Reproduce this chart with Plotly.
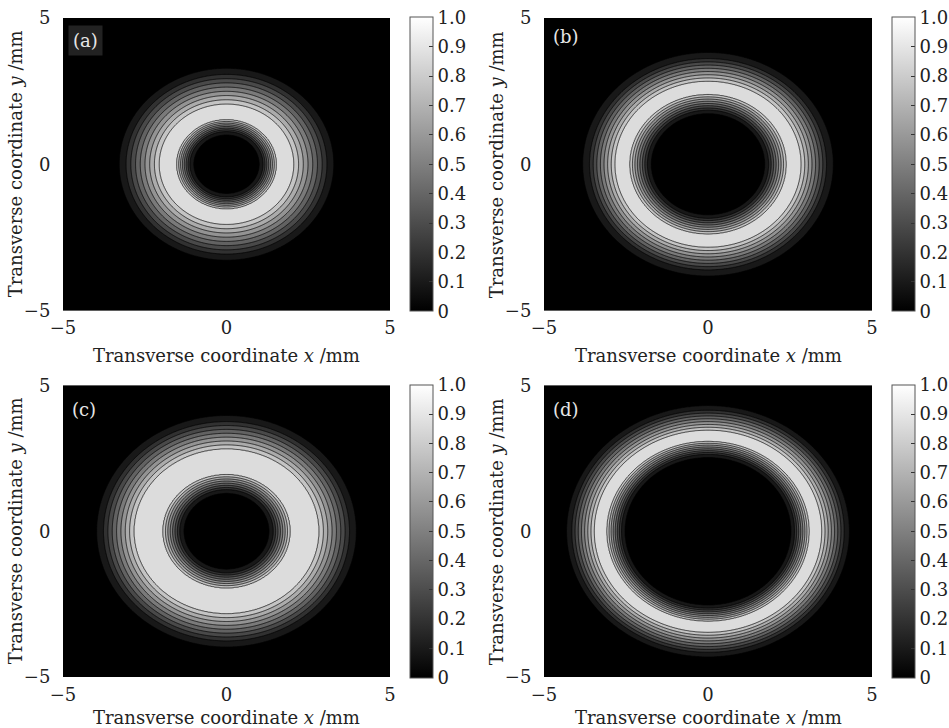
import numpy as np
import plotly.graph_objects as go

# ---- data: radial intensity profiles (r in mm, normalized intensity) ----
panel_labels = ["(a)", "(b)", "(c)", "(d)"]
r_a = [0.0, 0.80, 1.00, 1.12, 1.52, 1.80, 2.06, 3.07, 3.28, 3.60, 7.5]
i_a = [0.0, 0.00, 0.10, 0.20, 0.90, 1.00, 0.90, 0.20, 0.10, 0.00, 0.0]
r_b = [0.0, 1.50, 1.73, 1.85, 2.38, 2.62, 2.84, 3.61, 3.82, 4.15, 7.5]
i_b = [0.0, 0.00, 0.10, 0.20, 0.90, 1.00, 0.90, 0.20, 0.10, 0.00, 0.0]
r_c = [0.0, 1.05, 1.30, 1.43, 1.94, 2.40, 2.83, 3.76, 3.97, 4.30, 7.5]
i_c = [0.0, 0.00, 0.10, 0.20, 0.90, 1.00, 0.90, 0.20, 0.10, 0.00, 0.0]
r_d = [0.0, 2.30, 2.53, 2.64, 3.08, 3.28, 3.47, 4.15, 4.31, 4.60, 7.5]
i_d = [0.0, 0.00, 0.10, 0.20, 0.90, 1.00, 0.90, 0.20, 0.10, 0.00, 0.0]
profiles = [(r_a, i_a), (r_b, i_b), (r_c, i_c), (r_d, i_d)]

axis_ticks = [-5, 0, 5]
cbar_vals = [0, 0.1, 0.2, 0.3, 0.4, 0.5, 0.6, 0.7, 0.8, 0.9, 1.0]
cbar_text = ["0", "0.1", "0.2", "0.3", "0.4", "0.5", "0.6", "0.7", "0.8", "0.9", "1.0"]

W, H = 949, 728
FONT = "DejaVu Serif"

# grid coordinates
xs = np.linspace(-5, 5, 401)
ys = np.linspace(-5, 5, 401)
XX, YY = np.meshgrid(xs, ys)
RR = np.sqrt(XX ** 2 + YY ** 2)

# pixel geometry of each panel: (x0, x1, y0, y1) plot area, colorbar left, x-title centre
panels_px = [
    (63, 390, 18, 310.5, 410, 355),
    (544, 872, 18, 310.5, 892, 355),
    (63, 390, 385.5, 677, 410, 717),
    (544, 872, 385.5, 677, 892, 717),
]
label_px = [(85, 40), (566, 36), (84, 409), (566, 409)]

fig = go.Figure()
layout_axes = {}
annotations = []

for k, ((rp, ip), (x0, x1, y0, y1, cbx, ty)) in enumerate(zip(profiles, panels_px)):
    Z = np.interp(RR, rp, ip)
    n = k + 1
    xa = "x" if n == 1 else f"x{n}"
    ya = "y" if n == 1 else f"y{n}"
    fig.add_trace(go.Contour(
        x=xs, y=ys, z=Z, xaxis=xa, yaxis=ya,
        contours=dict(start=0.1, end=0.9, size=0.1, coloring="fill"),
        colorscale=[[0, "#000000"], [1, "#dcdcdc"]],
        line=dict(color="black", width=0.7),
        showscale=False, hoverinfo="skip",
    ))
    # continuous gray colorbar
    fig.add_trace(go.Scatter(
        x=[0, 0], y=[0, 0], xaxis=xa, yaxis=ya, mode="markers",
        marker=dict(size=1, opacity=0, color=[0, 1], cmin=0, cmax=1,
                    colorscale=[[0, "#000000"], [1, "#ffffff"]], showscale=True,
                    colorbar=dict(
                        x=cbx / W, xanchor="left", xpad=0,
                        y=1 - (y0 + y1) / 2 / H, yanchor="middle", ypad=0,
                        len=(y1 - y0 + 1) / H, lenmode="fraction",
                        thickness=23, thicknessmode="pixels",
                        outlinewidth=1, outlinecolor="#555555",
                        tickmode="array", tickvals=cbar_vals, ticktext=cbar_text,
                        ticks="inside", ticklen=4, tickcolor="#333333",
                        tickfont=dict(family=FONT, size=18, color="#222222"),
                    )),
        hoverinfo="skip", showlegend=False,
    ))
    kx = "xaxis" if n == 1 else f"xaxis{n}"
    ky = "yaxis" if n == 1 else f"yaxis{n}"
    layout_axes[kx] = dict(
        domain=[x0 / W, x1 / W], range=[-5, 5], anchor=ya,
        tickmode="array", tickvals=axis_ticks, ticks="outside", ticklen=1,
        tickcolor="rgba(0,0,0,0)", showgrid=False, zeroline=False, showline=False,
        tickfont=dict(family=FONT, size=18, color="#222222"), fixedrange=True,
    )
    layout_axes[ky] = dict(
        domain=[1 - y1 / H, 1 - y0 / H], range=[-5, 5], anchor=xa,
        tickmode="array", tickvals=axis_ticks, ticks="outside", ticklen=8,
        tickcolor="rgba(0,0,0,0)", showgrid=False, zeroline=False, showline=False,
        tickfont=dict(family=FONT, size=18, color="#222222"), fixedrange=True,
    )
    # axis titles
    annotations.append(dict(
        text="Transverse coordinate <i>x</i> /mm", xref="paper", yref="paper",
        x=(x0 + x1) / 2 / W, y=1 - ty / H, xanchor="center", yanchor="middle",
        showarrow=False, font=dict(family=FONT, size=18, color="#222222"),
    ))
    annotations.append(dict(
        text="Transverse coordinate <i>y</i> /mm", xref="paper", yref="paper",
        x=(x0 - 48) / W, y=1 - (y0 + y1) / 2 / H, xanchor="center", yanchor="middle",
        textangle=-90, showarrow=False, font=dict(family=FONT, size=18, color="#222222"),
    ))
    lx, ly = label_px[k]
    annotations.append(dict(
        text=panel_labels[k], xref="paper", yref="paper",
        x=lx / W, y=1 - ly / H, xanchor="center", yanchor="middle",
        showarrow=False, font=dict(family=FONT, size=18, color="#e6e6e6"),
        bgcolor="#222222" if k == 0 else "rgba(0,0,0,0)", borderpad=4,
    ))

fig.update_layout(
    width=W, height=H, margin=dict(l=0, r=0, t=0, b=0, autoexpand=False),
    paper_bgcolor="white", plot_bgcolor="black", showlegend=False,
    annotations=annotations, **layout_axes,
)
fig.write_html(
    "out.html",
    config={"displayModeBar": False},
    post_script="document.body.style.margin='0';document.body.style.overflow='hidden';",
)
